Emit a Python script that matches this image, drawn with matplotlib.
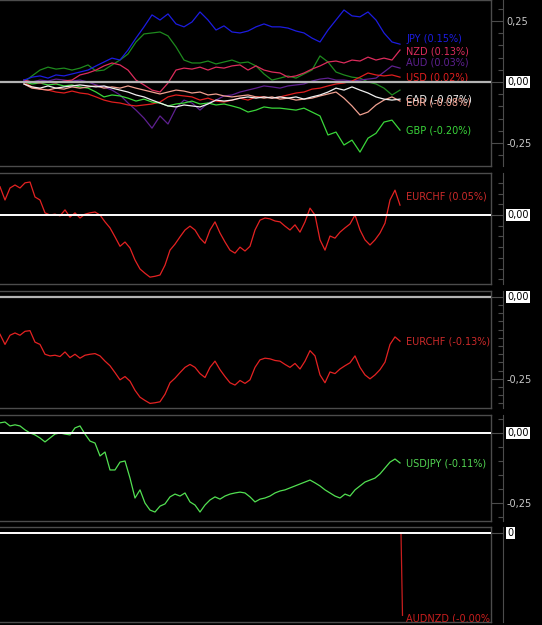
import numpy as np
import matplotlib
matplotlib.use("Agg")
import matplotlib.pyplot as plt
from matplotlib.ticker import MultipleLocator, FixedLocator, FuncFormatter, NullLocator

W, H = 542, 625

# ---- panel 1: currency strength (%), time index ----
T1 = np.arange(24, 401, 8)
JPY = [0.008, 0.02, 0.025, 0.016, 0.029, 0.025, 0.033, 0.041,
       0.049, 0.066, 0.082, 0.098, 0.09, 0.131, 0.18, 0.226,
       0.275, 0.254, 0.279, 0.238, 0.226, 0.246, 0.287, 0.254,
       0.213, 0.23, 0.205, 0.201, 0.209, 0.226, 0.238, 0.226,
       0.226, 0.221, 0.209, 0.201, 0.18, 0.164, 0.213, 0.254,
       0.295, 0.271, 0.267, 0.287, 0.254, 0.201, 0.164, 0.155]
CHF = [0, 0.025, 0.049, 0.061, 0.053, 0.057, 0.049, 0.057,
       0.07, 0.045, 0.049, 0.07, 0.09, 0.115, 0.164, 0.197,
       0.201, 0.205, 0.189, 0.144, 0.09, 0.078, 0.078, 0.086,
       0.074, 0.082, 0.09, 0.078, 0.082, 0.066, 0.033, 0.008,
       0.016, 0.025, 0.016, 0.033, 0.049, 0.107, 0.082, 0.041,
       0.029, 0.02, 0.016, 0, -0.008, -0.025, -0.053, -0.033]
NZD = [0.008, 0, -0.004, 0, -0.004, 0.004, 0.008, 0.029,
       0.037, 0.049, 0.066, 0.078, 0.07, 0.049, 0.008, -0.012,
       -0.033, -0.041, -0.004, 0.049, 0.057, 0.053, 0.061, 0.049,
       0.061, 0.057, 0.066, 0.07, 0.049, 0.066, 0.049, 0.041,
       0.037, 0.02, 0.025, 0.037, 0.053, 0.066, 0.082, 0.086,
       0.078, 0.09, 0.086, 0.102, 0.09, 0.098, 0.09, 0.131]
AUD = [0.008, 0, 0.008, 0.004, 0.012, 0.008, 0.004, 0.008,
       0, -0.012, -0.02, -0.033, -0.053, -0.086, -0.115, -0.148,
       -0.189, -0.139, -0.172, -0.107, -0.074, -0.086, -0.115, -0.086,
       -0.074, -0.057, -0.053, -0.041, -0.033, -0.025, -0.016, -0.02,
       -0.025, -0.016, -0.012, -0.008, 0.004, 0.012, 0.016, 0.008,
       0.008, 0.004, 0.008, 0.012, 0.016, 0.041, 0.066, 0.057]
USD = [0, -0.02, -0.029, -0.033, -0.041, -0.045, -0.037, -0.045,
       -0.049, -0.061, -0.074, -0.082, -0.086, -0.094, -0.098, -0.094,
       -0.09, -0.082, -0.061, -0.053, -0.057, -0.061, -0.074, -0.066,
       -0.078, -0.082, -0.074, -0.066, -0.074, -0.061, -0.061, -0.066,
       -0.061, -0.053, -0.045, -0.041, -0.029, -0.025, -0.016, -0.008,
       -0.004, 0.004, 0.02, 0.037, 0.029, 0.025, 0.029, 0.02]
CAD = [-0.008, -0.02, -0.025, -0.016, -0.025, -0.02, -0.016, -0.012,
       -0.016, -0.02, -0.016, -0.025, -0.033, -0.041, -0.053, -0.061,
       -0.074, -0.086, -0.098, -0.102, -0.094, -0.098, -0.102, -0.09,
       -0.074, -0.078, -0.074, -0.066, -0.061, -0.066, -0.061, -0.066,
       -0.061, -0.066, -0.061, -0.07, -0.061, -0.053, -0.041, -0.025,
       -0.033, -0.02, -0.033, -0.045, -0.061, -0.07, -0.074, -0.07]
EUR = [-0.008, -0.025, -0.029, -0.033, -0.025, -0.029, -0.02, -0.025,
       -0.02, -0.016, -0.025, -0.02, -0.025, -0.016, -0.025, -0.033,
       -0.041, -0.049, -0.041, -0.033, -0.037, -0.045, -0.041, -0.053,
       -0.049, -0.057, -0.061, -0.057, -0.053, -0.061, -0.066, -0.061,
       -0.07, -0.066, -0.074, -0.07, -0.066, -0.057, -0.049, -0.041,
       -0.066, -0.098, -0.135, -0.123, -0.094, -0.074, -0.061, -0.078]
GBP = [0, -0.008, -0.004, -0.012, -0.008, -0.016, -0.012, -0.02,
       -0.025, -0.041, -0.061, -0.053, -0.057, -0.066, -0.078, -0.07,
       -0.082, -0.086, -0.098, -0.09, -0.086, -0.078, -0.09, -0.086,
       -0.094, -0.09, -0.098, -0.107, -0.123, -0.115, -0.102, -0.107,
       -0.107, -0.111, -0.115, -0.107, -0.123, -0.139, -0.217, -0.205,
       -0.258, -0.238, -0.287, -0.23, -0.21, -0.164, -0.156, -0.197]

# label text and where the label sits (value axis)
P1_LABELS = [("JPY (0.15%)", 0.176, "#1c1ce0"), ("NZD (0.13%)", 0.127, "#dc2c5c"),
             ("AUD (0.03%)", 0.078, "#5e2090"), ("USD (0.02%)", 0.02, "#e01e1e"),
             ("CAD (-0.07%)", -0.07, "#f0f0f0"), ("EUR (-0.08%)", -0.082, "#f0a090"),
             ("GBP (-0.20%)", -0.2, "#3ad63a")]

# ---- panels 2-4: pairs ----
T2 = np.arange(0, 401, 5)
EURCHF_A = [0.066, 0.035, 0.063, 0.07, 0.063, 0.075, 0.077, 0.042,
            0.035, 0.005, 0, 0.002, -0.002, 0.012, -0.005, 0.005,
            -0.007, 0.002, 0.005, 0.007, 0, -0.016, -0.03, -0.051,
            -0.073, -0.063, -0.077, -0.105, -0.126, -0.136, -0.145, -0.143,
            -0.14, -0.117, -0.082, -0.068, -0.051, -0.035, -0.026, -0.035,
            -0.054, -0.066, -0.035, -0.016, -0.042, -0.063, -0.082, -0.089,
            -0.075, -0.084, -0.073, -0.035, -0.012, -0.007, -0.009, -0.014,
            -0.016, -0.026, -0.035, -0.023, -0.04, -0.016, 0.016, 0,
            -0.058, -0.082, -0.049, -0.054, -0.04, -0.03, -0.021, 0,
            -0.035, -0.058, -0.07, -0.058, -0.042, -0.019, 0.035, 0.058,
            0.023]
EURCHF_B = [-0.114, -0.145, -0.117, -0.11, -0.117, -0.105, -0.103, -0.138,
            -0.145, -0.175, -0.18, -0.178, -0.182, -0.168, -0.185, -0.175,
            -0.187, -0.178, -0.175, -0.173, -0.18, -0.196, -0.21, -0.231,
            -0.253, -0.243, -0.257, -0.285, -0.306, -0.316, -0.325, -0.323,
            -0.32, -0.297, -0.262, -0.248, -0.231, -0.215, -0.206, -0.215,
            -0.234, -0.246, -0.215, -0.196, -0.222, -0.243, -0.262, -0.269,
            -0.255, -0.264, -0.253, -0.215, -0.192, -0.187, -0.189, -0.194,
            -0.196, -0.206, -0.215, -0.203, -0.22, -0.196, -0.164, -0.18,
            -0.238, -0.262, -0.229, -0.234, -0.22, -0.21, -0.201, -0.18,
            -0.215, -0.238, -0.25, -0.238, -0.222, -0.199, -0.145, -0.122,
            -0.135]
USDJPY = [0.036, 0.039, 0.025, 0.029, 0.025, 0.011, 0, -0.007,
          -0.018, -0.032, -0.018, -0.004, 0, -0.004, -0.007, 0.018,
          0.025, -0.004, -0.029, -0.036, -0.082, -0.068, -0.132, -0.132,
          -0.104, -0.1, -0.161, -0.232, -0.203, -0.25, -0.275, -0.282,
          -0.261, -0.253, -0.228, -0.218, -0.225, -0.214, -0.246, -0.257,
          -0.282, -0.257, -0.239, -0.228, -0.236, -0.225, -0.218, -0.214,
          -0.211, -0.214, -0.228, -0.246, -0.236, -0.232, -0.225, -0.214,
          -0.207, -0.203, -0.196, -0.189, -0.182, -0.175, -0.168, -0.178,
          -0.189, -0.203, -0.214, -0.225, -0.232, -0.218, -0.225, -0.203,
          -0.189, -0.175, -0.168, -0.161, -0.146, -0.125, -0.104, -0.093,
          -0.107]
AUDNZD_T = [0, 401, 402.5]
AUDNZD = [0.0, 0.0, -0.0042]

BG = "black"
FRAME = "#4c4c4c"
TXT = "#c8c8c8"

plt.rcParams['font.family'] = ['DejaVu Sans']
fig = plt.figure(figsize=(W / 100, H / 100), dpi=100, facecolor=BG)


def fmt(v, pos):
    if abs(v) < 1e-9:
        return ""
    return f"{v:.2f}".replace(".", ",")


def panel(top, bottom, ylim, majors, minor, zero_color, zero_lw, zero_txt="0,00"):
    ax = fig.add_axes([0, 1 - bottom / H, 491 / W, (bottom - top) / H], facecolor=BG)
    ax.set_xlim(0, 491)
    ax.set_ylim(*ylim)
    ax.set_xticks([])
    ax.set_yticks([])
    for s in ax.spines.values():
        s.set_color(FRAME)
        s.set_linewidth(1)
    ax.spines['left'].set_visible(False)
    ax.axhline(0, color=zero_color, lw=zero_lw, zorder=5)

    # price scale column on the right
    sc = fig.add_axes([491 / W, 1 - bottom / H, 12 / W, (bottom - top) / H])
    sc.patch.set_alpha(0)
    sc.set_ylim(*ylim)
    sc.set_xticks([])
    for k in ('left', 'top', 'bottom'):
        sc.spines[k].set_visible(False)
    sc.spines['right'].set_color(FRAME)
    sc.yaxis.tick_right()
    sc.yaxis.set_major_locator(FixedLocator(majors))
    if minor:
        sc.yaxis.set_minor_locator(MultipleLocator(minor))
    else:
        sc.yaxis.set_minor_locator(NullLocator())
    sc.yaxis.set_major_formatter(FuncFormatter(fmt))
    sc.tick_params(axis='y', which='major', direction='in', length=8.6, width=0.8,
                   color=FRAME, labelcolor=TXT, labelsize=7, pad=2.5)
    sc.tick_params(axis='y', which='minor', direction='in', length=3.6, width=0.8, color=FRAME)
    sc.annotate(zero_txt, xy=(1, 0), xycoords=('axes fraction', 'data'),
                xytext=(3.2, 0), textcoords='offset points', ha='left', va='center',
                fontsize=7, color='black',
                bbox=dict(boxstyle='square,pad=0.12', facecolor='white', edgecolor='none'),
                annotation_clip=False)
    return ax


def tag(ax, txt, y, color):
    ax.text(406, y, txt, color=color, fontsize=7, ha='left', va='center', clip_on=True)


# panel 1
ax1 = panel(0, 166, (-0.344, 0.336), [-0.25, 0, 0.25], 0.05, "#b4b4b4", 1.6)
series = [(CHF, "#1e8a1e"), (AUD, "#5e2090"), (USD, "#e01e1e"), (GBP, "#3ad63a"),
          (EUR, "#f0a090"), (CAD, "#f0f0f0"), (NZD, "#dc2c5c"), (JPY, "#1c1ce0")]
for vals, c in series:
    ax1.plot(T1, vals, color=c, lw=0.9)
for txt, y, c in P1_LABELS:
    tag(ax1, txt, y, c)

# panel 2
ax2 = panel(173, 284, (-0.161, 0.098), [0], 0.025, "white", 1.4)
ax2.plot(T2, EURCHF_A, color="#e42222", lw=0.9)
tag(ax2, "EURCHF (0.05%)", 0.044, "#cc2a2a")

# panel 3
ax3 = panel(291, 408, (-0.339, 0.018), [-0.25, 0], 0.025, "#b4b4b4", 1.6)
ax3.plot(T2, EURCHF_B, color="#e42222", lw=0.9)
tag(ax3, "EURCHF (-0.13%)", -0.137, "#cc2a2a")

# panel 4
ax4 = panel(415, 521, (-0.314, 0.064), [-0.25, 0], 0.05, "white", 1.4)
ax4.plot(T2, USDJPY, color="#52e052", lw=0.9)
tag(ax4, "USDJPY (-0.11%)", -0.111, "#52d452")

# panel 5
ax5 = panel(527, 622, (-0.00454, 0.000306), [0], None, "white", 1.4, zero_txt="0")
ax5.plot(AUDNZD_T, AUDNZD, color="#c81e1e", lw=0.9)
tag(ax5, "AUDNZD (-0.00%)", -0.00434, "#c81e1e")

fig.savefig("out.png", dpi=100, facecolor=BG)
